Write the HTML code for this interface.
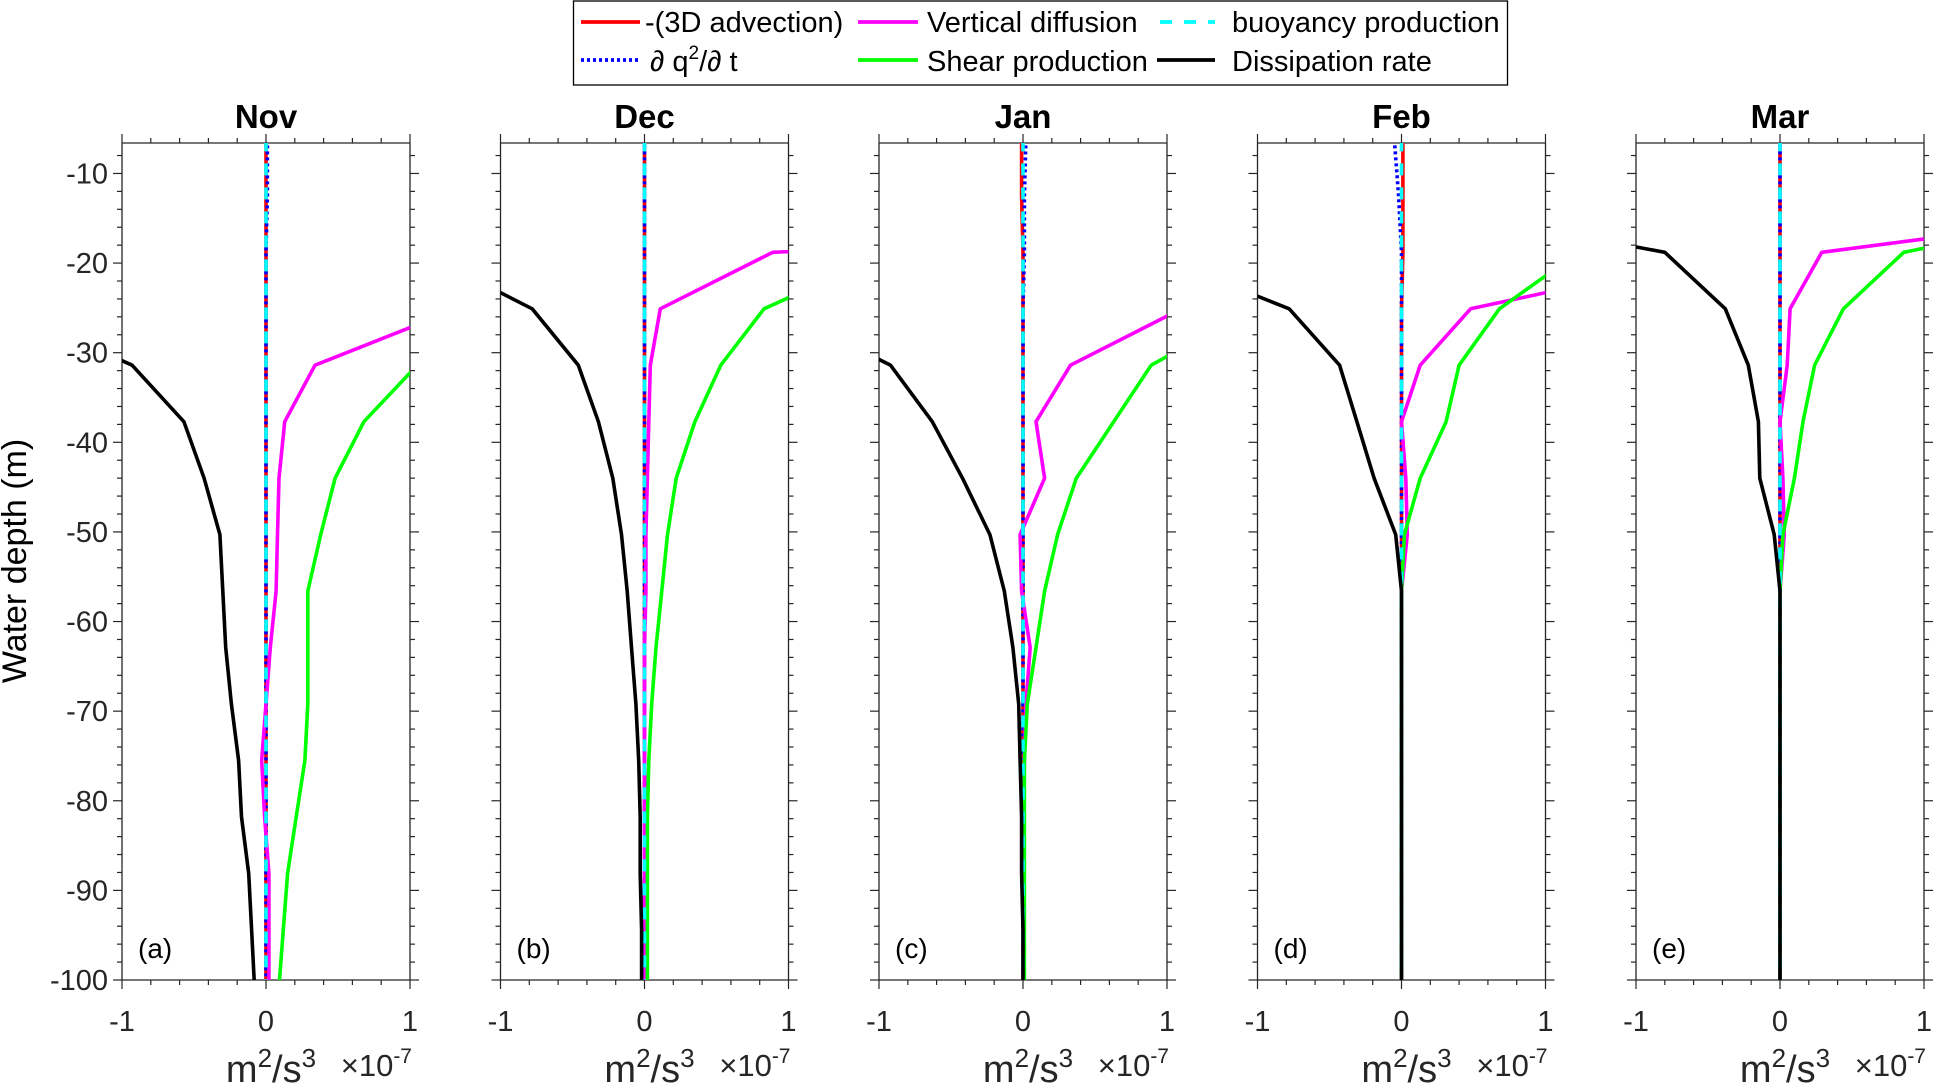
<!DOCTYPE html>
<html><head><meta charset="utf-8"><style>
body{margin:0;background:#fff;}
svg{display:block;font-family:"Liberation Sans",sans-serif;}
</style></head><body>
<svg id="fig" width="1933" height="1084" viewBox="0 0 1933 1084">
<g id="legend">
<rect x="573.5" y="1" width="934" height="84" fill="#fff" stroke="#000" stroke-width="1.3"/>
<g><line x1="581" y1="22" x2="640" y2="22" stroke="#f00" stroke-width="3.8"/><text x="645" y="32" font-size="29">-(3D advection)</text></g>
<g><line x1="581" y1="60" x2="640" y2="60" stroke="#00f" stroke-width="3.8" stroke-dasharray="3,3"/><text x="650" y="71" font-size="29">∂ q<tspan dy="-12" font-size="19">2</tspan><tspan dy="12">/∂ t</tspan></text></g>
<g><line x1="858" y1="22" x2="918" y2="22" stroke="#f0f" stroke-width="3.8"/><text x="927" y="32" font-size="29">Vertical diffusion</text></g>
<g><line x1="858" y1="60" x2="918" y2="60" stroke="#0f0" stroke-width="3.8"/><text x="927" y="71" font-size="29">Shear production</text></g>
<g><line x1="1160" y1="22" x2="1215" y2="22" stroke="#0ff" stroke-width="3.8" stroke-dasharray="12,12"/><text x="1232" y="32" font-size="29">buoyancy production</text></g>
<g><line x1="1157" y1="60" x2="1215" y2="60" stroke="#000" stroke-width="3.8"/><text x="1232" y="71" font-size="29">Dissipation rate</text></g>
</g>
<text transform="translate(26,561) rotate(-90)" text-anchor="middle" font-size="34">Water depth (m)</text>
</svg>
<script>
const months = ["Nov","Dec","Jan","Feb","Mar"];
const panelLabels = ["(a)","(b)","(c)","(d)","(e)"];
const depths = [-6.2,-12.5,-18.8,-25.1,-31.4,-37.7,-44,-50.3,-56.6,-62.9,-69.2,-75.5,-81.8,-88.1,-94.4,-100.7];
const yTicks = [-10,-20,-30,-40,-50,-60,-70,-80,-90,-100];
const xTicks = [-1,0,1];
const dissipation = [
 [-5,-4,-3,-1.8,-0.93,-0.57,-0.43,-0.32,-0.30,-0.28,-0.24,-0.19,-0.17,-0.12,-0.10,-0.08],
 [-4,-3,-1.55,-0.78,-0.46,-0.32,-0.22,-0.16,-0.12,-0.09,-0.06,-0.04,-0.03,-0.03,-0.02,-0.02],
 [-5,-4,-3,-1.7,-0.92,-0.63,-0.42,-0.23,-0.13,-0.07,-0.03,-0.02,-0.01,-0.01,0,0],
 [-4,-3,-1.77,-0.78,-0.43,-0.31,-0.19,-0.04,0,0,0,0,0,0,0,0],
 [-4,-2.9,-0.80,-0.38,-0.22,-0.15,-0.14,-0.04,0,0,0,0,0,0,0,0]
];
const vdiff = [
 [4,3,2,1.33,0.34,0.13,0.09,0.08,0.07,0.03,0,-0.03,-0.01,0.02,0.02,0.02],
 [12,10,0.89,0.11,0.04,0.03,0.02,0.01,0.01,0,0,0,0,0,0,0],
 [4,3,2,1.1,0.33,0.09,0.15,-0.02,-0.01,0.05,0.02,0.01,0,0,0,0],
 [4,3,2.3,0.48,0.13,0,0.03,0.04,0,0,0,0,0,0,0,0],
 [5,3.3,0.29,0.07,0.05,0,0.02,0.03,0,0,0,0,0,0,0,0]
];
const shear = [
 [4,3,2.2,1.6,1.05,0.68,0.48,0.38,0.29,0.29,0.29,0.27,0.21,0.15,0.12,0.09],
 [3,2.5,1.7,0.83,0.53,0.35,0.22,0.16,0.12,0.08,0.05,0.03,0.02,0.02,0.02,0.02],
 [4,3,2.5,1.6,0.89,0.63,0.37,0.24,0.15,0.09,0.03,0.01,0.01,0.01,0.01,0.01],
 [2.5,1.8,1.23,0.68,0.40,0.31,0.13,0.02,0,0,0,0,0,0,0,0],
 [4,2.8,0.86,0.44,0.24,0.16,0.10,0.02,0,0,0,0,0,0,0,0]
];
const advection = [
 [0,0,0,0,0,0,0,0,0,0,0,0,0,0,0,0],
 [0,0,0,0,0,0,0,0,0,0,0,0,0,0,0,0],
 [-0.01,-0.01,0,0,0,0,0,0,0,0,0,0,0,0,0,0],
 [0.01,0.01,0.01,0,0,0,0,0,0,0,0,0,0,0,0,0],
 [0,0,0,0,0,0,0,0,0,0,0,0,0,0,0,0]
];
const dq2dt = [
 [0.01,0.01,0,0,0,0,0,0,0,0,0,0,0,0,0,0],
 [0,0,0,0,0,0,0,0,0,0,0,0,0,0,0,0],
 [0.02,0.01,0.01,0,0,0,0,0,0,0,0,0,0,0,0,0],
 [-0.05,-0.02,0,0,0,0,0,0,0,0,0,0,0,0,0,0],
 [0,0,0,0,0,0,0,0,0,0,0,0,0,0,0,0]
];
const buoyancy = [
 [0,0,0,0,0,0,0,0,0,0,0,0,0,0,0,0],
 [0,0,0,0,0,0,0,0,0,0,0,0,0,0,0,0],
 [0,0,0,0,0,0,0,0,0,0,0,0,0,0,0,0],
 [0,0,0,0,0,0,0,0,0,0,0,0,0,0,0,0],
 [0,0,0,0,0,0,0,0,0,0,0,0,0,0,0,0]
];

const NS="http://www.w3.org/2000/svg";
const svg=document.getElementById('fig');
const top0=143, bot0=980, yMax=-6.6, yMin=-100, pw=288;
const lefts=[122,500.5,879,1257.5,1636];
function yScale(v){return top0+(yMax-v)/(yMax-yMin)*(bot0-top0);}
function mk(tag,attrs,parent){const e=document.createElementNS(NS,tag);for(const k in attrs)e.setAttribute(k,attrs[k]);(parent||svg).appendChild(e);return e;}
const defs=mk('defs',{});
months.forEach((m,p)=>{
  const L=lefts[p], R=L+pw;
  const xScale=v=>L+(v+1)/2*pw;
  const g=mk('g',{});
  
  
  const cp=mk('clipPath',{id:'c'+p},defs);
  mk('rect',{x:L,y:top0,width:pw,height:bot0-top0},cp);
  const tk=mk('g',{stroke:'#262626','stroke-width':1.2},g);
  
  
  for(let i=0;i<=10;i++){const v=-1+i*0.2;const x=xScale(v);const len=(i%5===0)?9:5;
    mk('line',{x1:x,y1:top0,x2:x,y2:top0-len},tk);mk('line',{x1:x,y1:bot0,x2:x,y2:bot0+len},tk);}
  for(let v=-8;v>=-100;v-=2){const y=yScale(v);const len=(v%10===0)?9:5;
    mk('line',{x1:L,y1:y,x2:L-len,y2:y},tk);mk('line',{x1:R,y1:y,x2:R+len,y2:y},tk);}
  mk('line',{x1:L,y1:top0,x2:R,y2:top0,stroke:'#262626','stroke-width':1.3},g);
  mk('line',{x1:L,y1:bot0,x2:R,y2:bot0,stroke:'#262626','stroke-width':1.3},g);
  mk('line',{x1:L,y1:top0,x2:L,y2:bot0,stroke:'#262626','stroke-width':1.3},g);
  mk('line',{x1:R,y1:top0,x2:R,y2:bot0,stroke:'#262626','stroke-width':1.3},g);
  const series=[[advection,'#f00','','advection'],[dq2dt,'#00f','3,3','dq2dt'],[vdiff,'#f0f','','vertical-diffusion'],[shear,'#0f0','','shear-production'],[buoyancy,'#0ff','12,12','buoyancy-production'],[dissipation,'#000','','dissipation-rate']];
  series.forEach(([arr,col,dash,nm])=>{
    const pts=arr[p].map((v,i)=>xScale(v).toFixed(1)+','+yScale(depths[i]).toFixed(1)).join(' ');
    const a={points:pts,fill:'none',stroke:col,'stroke-width':3.6,'clip-path':'url(#c'+p+')','stroke-linejoin':'round'};
    if(dash)a['stroke-dasharray']=dash;
    const pl=mk('polyline',a,g);
    
    
  });
  const t=mk('text',{x:(L+R)/2,y:128,'text-anchor':'middle','font-size':33,'font-weight':'bold'},g);t.textContent=m;
  
  
  xTicks.forEach(v=>{const tx=mk('text',{x:xScale(v),y:1031,'text-anchor':'middle','font-size':29,fill:'#262626'},g);tx.textContent=String(v);
    
    });
  const pl=mk('text',{x:L+16,y:958,'font-size':28,fill:'#000'},g);pl.textContent=panelLabels[p];
  
  
  const u=mk('text',{x:xScale(0)+5,y:1082,'text-anchor':'middle','font-size':38,fill:'#262626'},g);
  u.innerHTML='m<tspan dy="-15" font-size="26">2</tspan><tspan dy="15">/s</tspan><tspan dy="-15" font-size="26">3</tspan>';
  
  
  const ex=mk('text',{x:R+2,y:1076,'text-anchor':'end','font-size':31,fill:'#262626'},g);
  ex.innerHTML='×10<tspan dy="-13" font-size="21">-7</tspan>';
  
  
  if(p===0){yTicks.forEach(v=>{const ty=mk('text',{x:108,y:yScale(v)+10,'text-anchor':'end','font-size':29,fill:'#262626'},g);ty.textContent=String(v);
    
    });}
});
</script>
</body></html>
